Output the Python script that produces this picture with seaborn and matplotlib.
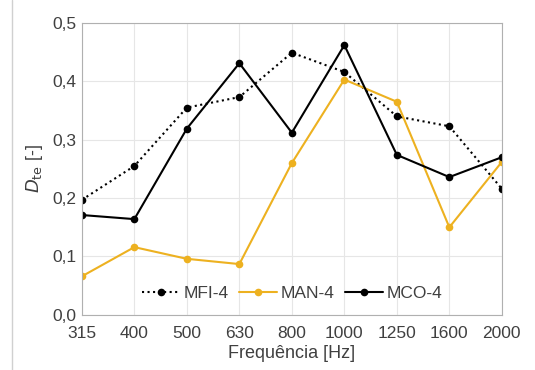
import numpy as np
import pandas as pd
import matplotlib
matplotlib.use("Agg")
import matplotlib.pyplot as plt
import seaborn as sns
from matplotlib.ticker import FuncFormatter

sns.set_style("whitegrid")
plt.rcParams['font.family'] = ['Liberation Sans', 'DejaVu Sans']

# ---------------------------------------------------------------
# Data
# ---------------------------------------------------------------
freqs = ["315", "400", "500", "630", "800", "1000", "1250", "1600", "2000"]
mfi4 = [0.197, 0.255, 0.355, 0.373, 0.449, 0.416, 0.340, 0.323, 0.216]
man4 = [0.066, 0.116, 0.096, 0.087, 0.260, 0.403, 0.365, 0.150, 0.262]
mco4 = [0.171, 0.164, 0.319, 0.431, 0.312, 0.462, 0.274, 0.236, 0.270]

series = [("MFI-4", mfi4, "black", ":"),
          ("MAN-4", man4, "#EDB120", "-"),
          ("MCO-4", mco4, "black", "-")]

TXT = "#404040"

fig = plt.figure(figsize=(5.35, 3.7), dpi=100)
ax = fig.add_axes([0.153, 0.149, 0.785, 0.789])

pos = np.arange(len(freqs))
for name, vals, c, ls in series:
    sns.lineplot(x=pos, y=vals, ax=ax, color=c, linestyle=ls, linewidth=1.5,
                 marker="o", markersize=5.5, markeredgewidth=0, label=name)

ax.set_xlim(0, len(freqs) - 1)
ax.set_ylim(0, 0.5)
ax.set_xticks(pos)
ax.set_xticklabels(freqs)
ax.set_yticks(np.arange(0, 0.51, 0.1))
ax.yaxis.set_major_formatter(FuncFormatter(lambda v, p: f"{v:.1f}".replace(".", ",")))
ax.tick_params(labelsize=12.5, colors=TXT, length=0)
ax.tick_params(axis="x", pad=8)
ax.tick_params(axis="y", pad=4)
ax.grid(True, color="#e6e6e6", linewidth=0.8)
for s in ax.spines.values():
    s.set_color("#b0b0b0")
    s.set_linewidth(0.8)

ax.set_xlabel("Frequência [Hz]", fontsize=13, color=TXT, labelpad=3)
ax.set_ylabel(r"$D_{\mathrm{te}}$ [-]", fontsize=13, color=TXT, labelpad=5)

leg = ax.legend(loc="lower center", bbox_to_anchor=(0.5, 0.0), ncol=3, frameon=False,
                fontsize=12.5, handlelength=2.2, handletextpad=0.2, columnspacing=0.6,
                borderaxespad=0.4)
for t in leg.get_texts():
    t.set_color(TXT)

# faint border on the left of the figure, as in the source image
fig.add_artist(plt.Line2D([0.023, 0.023], [0, 1], transform=fig.transFigure,
                          color="#d0d0d0", linewidth=1))

plt.savefig("out.png", dpi=100)
plt.close()
